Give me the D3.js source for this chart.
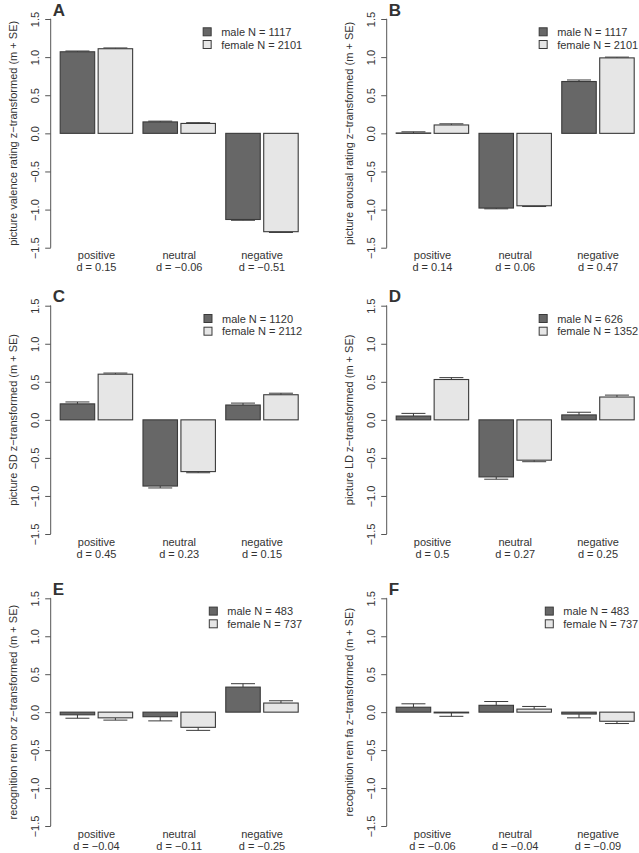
<!DOCTYPE html>
<html>
<head>
<meta charset="utf-8">
<script src="https://cdn.jsdelivr.net/npm/d3@7"></script>
<style>
  html, body { margin: 0; padding: 0; background: #fff; }
  svg { display: block; }
  text { font-family: "Liberation Sans", Arial, Helvetica, sans-serif; fill: #333; }
</style>
</head>
<body>
<svg id="chart" width="639" height="853"></svg>
<script>
// ---- data ----
const categories = ["positive", "neutral", "negative"];
const series = ["male", "female"];
const panelLetters = ["A", "B", "C", "D", "E", "F"];
const yLabels = [
  "picture valence rating z\u2212transformed (m + SE)",
  "picture arousal rating z\u2212transformed (m + SE)",
  "picture SD z\u2212transformed (m + SE)",
  "picture LD z\u2212transformed (m + SE)",
  "recognition rem cor z\u2212transformed (m + SE)",
  "recognition rem fa z\u2212transformed (m + SE)"
];
const maleN = [1117, 1117, 1120, 626, 483, 483];
const femaleN = [2101, 2101, 2112, 1352, 737, 737];
const maleMeans = [
  [1.07, 0.15, -1.13],
  [0.005, -0.98, 0.68],
  [0.21, -0.87, 0.195],
  [0.05, -0.75, 0.065],
  [-0.035, -0.06, 0.33],
  [0.065, 0.09, -0.025]
];
const maleSE = [
  [0.01, 0.01, 0.01],
  [0.015, 0.01, 0.02],
  [0.025, 0.025, 0.025],
  [0.035, 0.03, 0.035],
  [0.045, 0.055, 0.045],
  [0.045, 0.05, 0.05]
];
const femaleMeans = [
  [1.11, 0.13, -1.29],
  [0.11, -0.95, 0.99],
  [0.60, -0.68, 0.33],
  [0.53, -0.53, 0.30],
  [-0.075, -0.20, 0.12],
  [-0.01, 0.04, -0.12]
];
const femaleSE = [
  [0.01, 0.01, 0.01],
  [0.015, 0.01, 0.01],
  [0.015, 0.015, 0.02],
  [0.025, 0.02, 0.025],
  [0.03, 0.04, 0.03],
  [0.045, 0.035, 0.03]
];
const dValues = [
  ["0.15", "\u22120.06", "\u22120.51"],
  ["0.14", "0.06", "0.47"],
  ["0.45", "0.23", "0.15"],
  ["0.5", "0.27", "0.25"],
  ["\u22120.04", "\u22120.11", "\u22120.25"],
  ["\u22120.06", "\u22120.04", "\u22120.09"]
];
const yTicks = [-1.5, -1.0, -0.5, 0.0, 0.5, 1.0, 1.5];

// ---- layout ----
const colAxisX = [50.7, 386.7];
const rowTop = [19, 305.7, 598.3];
const rowBottom = [247.7, 534, 826];
const fills = { male: "#676767", female: "#e6e6e6" };
const strokeCol = "#3a3a3a";
const axisCol = "#555";
const fmt = v => (v < 0 ? "\u2212" : "") + Math.abs(v).toFixed(1);

const svg = d3.select("#chart");

panelLetters.forEach((letter, p) => {
  const col = p % 2, row = Math.floor(p / 2);
  const ax = colAxisX[col];
  const regionRight = ax + 257;
  const g = svg.append("g");

  const y = d3.scaleLinear().domain([-1.5, 1.5]).range([rowBottom[row], rowTop[row]]);
  const x0 = d3.scaleBand().domain(categories)
    .range([ax + 9.5, ax + 247.5]).paddingInner(0.3 / 2.4).paddingOuter(0);
  const x1 = d3.scaleBand().domain(series)
    .range([0, x0.bandwidth()]).paddingInner(0.1 / 1.1).paddingOuter(0);

  // y axis
  const yAxis = d3.axisLeft(y).tickValues(yTicks).tickSize(5.5).tickFormat(fmt);
  const axg = g.append("g").attr("transform", `translate(${ax},0)`).call(yAxis);
  axg.select(".domain").attr("stroke", axisCol).attr("d",
    `M-0.5,${y(-1.5)}H0V${y(1.5)}H-0.5`);
  axg.selectAll(".tick line").attr("stroke", axisCol);
  axg.selectAll(".tick text")
    .attr("font-size", 11)
    .attr("fill", "#333")
    .attr("x", null).attr("dy", null)
    .attr("text-anchor", "middle")
    .attr("transform", "translate(-12,0) rotate(-90)")
    .attr("y", 0);
  axg.attr("font-family", null);

  // y label
  g.append("text")
    .attr("transform", `translate(${ax - 33.5},${(y(1.5) + y(-1.5)) / 2}) rotate(-90)`)
    .attr("text-anchor", "middle")
    .attr("font-size", 11)
    .text(yLabels[p]);

  // bars
  const rows = [];
  categories.forEach((c, i) => {
    rows.push({ cat: c, s: "male", m: maleMeans[p][i], se: maleSE[p][i] });
    rows.push({ cat: c, s: "female", m: femaleMeans[p][i], se: femaleSE[p][i] });
  });

  // error bars (drawn first so bar outline sits above the stem base)
  const capW = 24;
  rows.forEach(d => {
    const cx = x0(d.cat) + x1(d.s) + x1.bandwidth() / 2;
    const end = d.m >= 0 ? d.m + d.se : d.m - d.se;
    g.append("line").attr("x1", cx).attr("x2", cx)
      .attr("y1", y(d.m)).attr("y2", y(end))
      .attr("stroke", strokeCol).attr("stroke-width", 1);
    g.append("line").attr("x1", cx - capW / 2).attr("x2", cx + capW / 2)
      .attr("y1", y(end)).attr("y2", y(end))
      .attr("stroke", strokeCol).attr("stroke-width", 1);
  });

  g.selectAll("rect.bar").data(rows).enter().append("rect")
    .attr("class", "bar")
    .attr("x", d => x0(d.cat) + x1(d.s))
    .attr("width", x1.bandwidth())
    .attr("y", d => y(Math.max(0, d.m)))
    .attr("height", d => Math.max(0.01, Math.abs(y(d.m) - y(0))))
    .attr("fill", d => fills[d.s])
    .attr("stroke", strokeCol)
    .attr("stroke-width", 1.1);

  // category labels
  categories.forEach((c, i) => {
    const cx = x0(c) + x0.bandwidth() / 2;
    g.append("text").attr("x", cx).attr("y", rowBottom[row] + 11.5)
      .attr("text-anchor", "middle").attr("font-size", 11).text(c);
    g.append("text").attr("x", cx).attr("y", rowBottom[row] + 23.5)
      .attr("text-anchor", "middle").attr("font-size", 11).text("d = " + dValues[p][i]);
  });

  // legend
  const legendLabels = [`male N = ${maleN[p]}`, `female N = ${femaleN[p]}`];
  const temp = g.append("text").attr("font-size", 11).text(legendLabels[1]);
  const wMax = Math.max(temp.node().getComputedTextLength(),
    (temp.text(legendLabels[0]), temp.node().getComputedTextLength()));
  temp.remove();
  const textX = regionRight - 5.5 - wMax;
  legendLabels.forEach((lab, k) => {
    const cy = y(1.5) + 12.8 + k * 12.7;
    g.append("rect").attr("x", textX - 18).attr("y", cy - 4)
      .attr("width", 8).attr("height", 8)
      .attr("fill", fills[series[k]]).attr("stroke", strokeCol).attr("stroke-width", 1);
    g.append("text").attr("x", textX).attr("y", cy + 4)
      .attr("font-size", 11).text(lab);
  });

  // panel letter
  g.append("text").attr("x", ax + 2).attr("y", y(1.5) - 3.5)
    .attr("font-size", 17).attr("font-weight", "bold").attr("fill", "#222")
    .text(letter);
});
</script>
</body>
</html>
